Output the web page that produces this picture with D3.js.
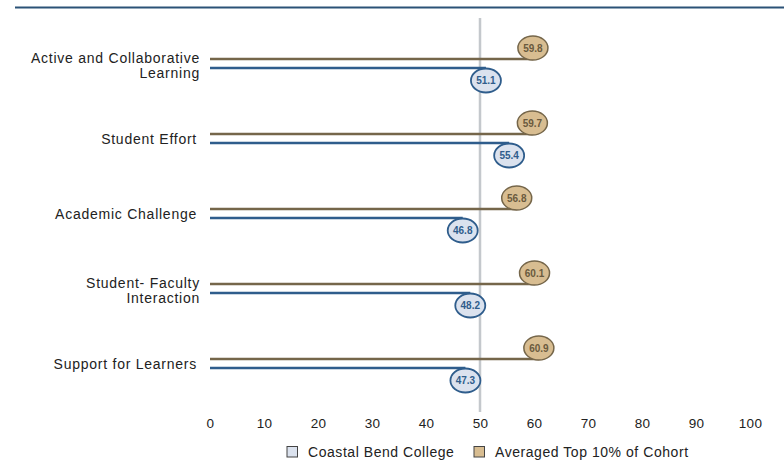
<!DOCTYPE html>
<html><head><meta charset="utf-8">
<script src="https://cdn.jsdelivr.net/npm/d3@7"></script>
<style>body{margin:0;background:#fff;} text{font-family:"Liberation Sans",Arial,sans-serif;}</style>
</head><body><svg id="c" width="784" height="467"></svg>
<script>
const categories = [["Active and Collaborative","Learning"],["Student Effort"],["Academic Challenge"],["Student- Faculty","Interaction"],["Support for Learners"]];
const collegeValues = [51.1, 55.4, 46.8, 48.2, 47.3];
const cohortValues = [59.8, 59.7, 56.8, 60.1, 60.9];
const tickValues = [0,10,20,30,40,50,60,70,80,90,100];
const seriesNames = ["Coastal Bend College","Averaged Top 10% of Cohort"];
const referenceValue = 50;

const svg = d3.select("#c");
const x = d3.scaleLinear().domain([0,100]).range([210,750]);
const y = d3.scaleBand().domain(d3.range(categories.length)).range([26,401]);
const blueC = "#2f5d8c", blueF = "#dbe2ee", brownC = "#75664a", brownF = "#d8bd91";

svg.append("line").attr("x1",15).attr("x2",784).attr("y1",7.5).attr("y2",7.5).attr("stroke","#2b5277").attr("stroke-width",2);

svg.append("line").attr("x1",x(referenceValue)).attr("x2",x(referenceValue)).attr("y1",18).attr("y2",412).attr("stroke","#c4c8cc").attr("stroke-width",2.5);

const g = svg.append("g").selectAll("g").data(categories).join("g")
  .attr("transform",(d,i)=>`translate(0,${y(i)+y.bandwidth()/2})`);

g.append("line").attr("x1",x(0)).attr("x2",(d,i)=>x(cohortValues[i])).attr("y1",-4.5).attr("y2",-4.5).attr("stroke",brownC).attr("stroke-width",2.5);
g.append("line").attr("x1",x(0)).attr("x2",(d,i)=>x(collegeValues[i])).attr("y1",4.5).attr("y2",4.5).attr("stroke",blueC).attr("stroke-width",2.5);

g.append("ellipse").attr("cx",(d,i)=>x(cohortValues[i])).attr("cy",-15.5).attr("rx",15).attr("ry",12).attr("fill",brownF).attr("stroke",brownC).attr("stroke-width",1.5);
g.append("text").attr("x",(d,i)=>x(cohortValues[i])).attr("y",-12).attr("text-anchor","middle").attr("font-size",10).attr("font-weight","bold").attr("fill","#6a5a3e").text((d,i)=>cohortValues[i].toFixed(1));
g.append("ellipse").attr("cx",(d,i)=>x(collegeValues[i])).attr("cy",17).attr("rx",15).attr("ry",12).attr("fill",blueF).attr("stroke",blueC).attr("stroke-width",1.8);
g.append("text").attr("x",(d,i)=>x(collegeValues[i])).attr("y",20.5).attr("text-anchor","middle").attr("font-size",10).attr("font-weight","bold").attr("fill",blueC).text((d,i)=>collegeValues[i].toFixed(1));

g.each(function(d){
  const t = d3.select(this).append("text").attr("text-anchor","end").attr("font-size",14).attr("letter-spacing","0.75px").attr("fill","#222");
  const n = d.length;
  d.forEach((line,k)=>{
    t.append("tspan").attr("x", n===1 ? 197 : 200).attr("y", n===1 ? 5 : (-1+k*15)).text(line);
  });
});

const axis = d3.axisBottom(x).tickValues(tickValues).tickSize(0).tickPadding(0);
const ag = svg.append("g").attr("transform","translate(0,418)").call(axis);
ag.select(".domain").remove();
ag.selectAll("text").attr("font-size",13.5).attr("letter-spacing","0.3px").attr("fill","#222").attr("font-family","Liberation Sans, Arial, sans-serif");

const leg = svg.append("g").attr("transform","translate(287,446)");
const legX = [0,187];
const fills = [blueF, brownF];
seriesNames.forEach((s,i)=>{
  leg.append("rect").attr("x",legX[i]).attr("y",0.5).attr("width",10.5).attr("height",10.5).attr("fill",fills[i]).attr("stroke","#444").attr("stroke-width",1);
  leg.append("text").attr("x",legX[i]+21).attr("y",11).attr("font-size",14).attr("letter-spacing","0.55px").attr("fill","#222").text(s);
});
</script></body></html>
